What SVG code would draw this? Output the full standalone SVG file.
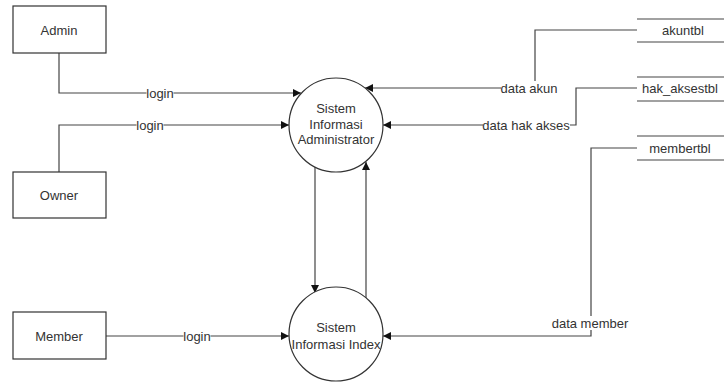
<svg xmlns="http://www.w3.org/2000/svg" width="724" height="382" viewBox="0 0 724 382">
<style>
.box{fill:#fff;stroke:#333;stroke-width:1.2}
.proc{fill:#fff;stroke:#333;stroke-width:1.2}
.t{font-family:"Liberation Sans",Arial,sans-serif;font-size:13px;fill:#333;text-anchor:middle;dominant-baseline:central}
.c{fill:none;stroke:#444;stroke-width:1.2}
.lb{fill:#fff}
.ds{stroke:#444;stroke-width:1.2}
</style>
<defs>
<marker id="ah" viewBox="0 0 10 10" refX="10" refY="5" markerWidth="9" markerHeight="8" markerUnits="userSpaceOnUse" orient="auto">
<path d="M0,0 L10,5 L0,10 z" fill="#111"/>
</marker>
</defs>
<rect width="724" height="382" fill="#fff"/>
<g id="connectors">
<path class="c" d="M59,53 V93 H301" marker-end="url(#ah)"/>
<path class="c" d="M59,172 V125 H289" marker-end="url(#ah)"/>
<path class="c" d="M106,336 H289" marker-end="url(#ah)"/>
<path class="c" d="M637,30 H535 V88 H365" marker-end="url(#ah)"/>
<path class="c" d="M637,88 H576 V125 H383" marker-end="url(#ah)"/>
<path class="c" d="M637,148 H591 V336 H383" marker-end="url(#ah)"/>
<path class="c" d="M315,167 V293" marker-end="url(#ah)"/>
<path class="c" d="M366,298 V162" marker-end="url(#ah)"/>
<rect class="lb" x="146.5" y="86" width="27" height="14"/>
<text class="t" x="160" y="93">login</text>
<rect class="lb" x="136.5" y="118" width="27" height="14"/>
<text class="t" x="150" y="125">login</text>
<rect class="lb" x="183.5" y="329" width="27" height="14"/>
<text class="t" x="197" y="336">login</text>
<rect class="lb" x="501" y="81" width="56" height="14"/>
<text class="t" x="529" y="88">data akun</text>
<rect class="lb" x="483" y="118" width="87" height="14"/>
<text class="t" x="526" y="125">data hak akses</text>
<rect class="lb" x="552" y="316" width="76" height="14"/>
<text class="t" x="590" y="323">data member</text>
</g>
<g id="admin">
<rect class="box" x="13" y="6" width="93" height="47"/>
<text class="t" x="59" y="30">Admin</text>
</g>
<g id="owner">
<rect class="box" x="13" y="172" width="93" height="46"/>
<text class="t" x="59" y="195">Owner</text>
</g>
<g id="member">
<rect class="box" x="13" y="312" width="93" height="47"/>
<text class="t" x="59" y="336">Member</text>
</g>
<g id="sia">
<circle class="proc" cx="336" cy="125" r="47"/>
<text class="t" x="336" y="108">Sistem</text>
<text class="t" x="336" y="124">Informasi</text>
<text class="t" x="336" y="139">Administrator</text>
</g>
<g id="sii">
<circle class="proc" cx="336" cy="334" r="47"/>
<text class="t" x="336" y="327">Sistem</text>
<text class="t" x="336" y="344">Informasi Index</text>
</g>
<g id="akuntbl">
<line class="ds" x1="637" y1="19" x2="724" y2="19"/>
<line class="ds" x1="637" y1="42" x2="724" y2="42"/>
<text class="t" x="683" y="30">akuntbl</text>
</g>
<g id="hak_aksestbl">
<line class="ds" x1="637" y1="77" x2="724" y2="77"/>
<line class="ds" x1="637" y1="101" x2="724" y2="101"/>
<text class="t" x="680" y="88">hak_aksestbl</text>
</g>
<g id="membertbl">
<line class="ds" x1="637" y1="136" x2="724" y2="136"/>
<line class="ds" x1="637" y1="160" x2="724" y2="160"/>
<text class="t" x="680" y="148">membertbl</text>
</g>
</svg>
